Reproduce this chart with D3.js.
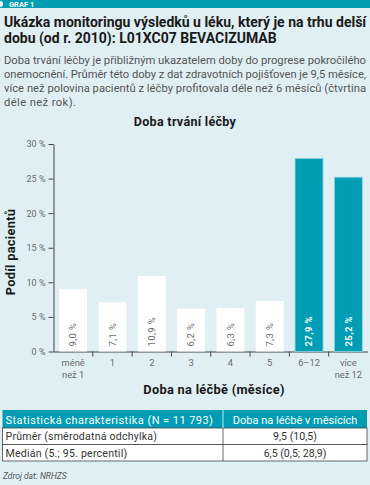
<!DOCTYPE html>
<html>
<head>
<meta charset="utf-8">
<script src="https://cdn.jsdelivr.net/npm/d3@7"></script>
<style>
  body { margin: 0; background: #dfeff4; }
  svg { display: block; font-family: Roboto, "Open Sans", sans-serif; }
</style>
</head>
<body>
<script>
var w = 370;
var h = 485;

// data
var categories = ['méně než 1', '1', '2', '3', '4', '5', '6–12', 'více než 12'];
var values = [9.0, 7.1, 10.9, 6.2, 6.3, 7.3, 27.9, 25.2];
var highlighted = ['6–12', 'více než 12'];
var yTicks = [0, 5, 10, 15, 20, 25, 30];
var titleLines = ['Ukázka monitoringu výsledků u léku, který je na trhu delší', 'dobu (od r. 2010): L01XC07 BEVACIZUMAB'];
var descLines = [
  'Doba trvání léčby je přibližným ukazatelem doby do progrese pokročilého',
  'onemocnění. Průměr této doby z dat zdravotních pojišťoven je 9,5 měsíce,',
  'více než polovina pacientů z léčby profitovala déle než 6 měsíců (čtvrtina',
  'déle než rok).'
];
var tableHeader = ['Statistická charakteristika (N = 11 793)', 'Doba na léčbě v měsících'];
var tableRows = [
  ['Průměr (směrodatná odchylka)', '9,5 (10,5)'],
  ['Medián (5.; 95. percentil)', '6,5 (0,5; 28,9)']
];

var teal = '#009db4';
var grey = '#6a6a6a';

var svg = d3.select('body').append('svg').attr('width', w).attr('height', h);
svg.append('rect').attr('width', w).attr('height', h).attr('fill', '#dfeff4');

// header strip
svg.append('rect').attr('width', w).attr('height', 8).attr('fill', teal);
svg.append('circle').attr('cx', 0).attr('cy', 4).attr('r', 3).attr('fill', '#ffffff');
svg.append('text').text('GRAF 1')
  .attr('x', 9).attr('y', 7)
  .attr('font-size', 7.5).attr('font-weight', 'bold').attr('fill', '#ffffff');

// title + description
svg.selectAll('text.title').data(titleLines).enter().append('text')
  .attr('class', 'title')
  .text(function(d) {return d;})
  .attr('x', 4)
  .attr('y', function(d, i) {return 27 + i * 16;})
  .attr('font-size', 14).attr('font-weight', 'bold').attr('fill', '#1a1a1a');

// the last line is short, the others run the full width like the justified original
svg.selectAll('text.desc').data(descLines).enter().append('text')
  .attr('class', 'desc')
  .text(function(d) {return d;})
  .attr('x', 4)
  .attr('y', function(d, i) {return 63.5 + i * 14;})
  .attr('font-size', 11.2).attr('fill', '#555555')
  .each(function(d, i) {
    if (i < descLines.length - 1) {
      d3.select(this).attr('textLength', 362).attr('lengthAdjust', 'spacing');
    } else {
      d3.select(this).attr('letter-spacing', 0.4);
    }
  });

// chart
var x = d3.scaleBand().domain(categories).range([53.5, 368]).paddingInner(0.29).paddingOuter(0.145);
var y = d3.scaleLinear().domain([0, 30]).range([351.5, 144]);

svg.append('text').text('Doba trvání léčby')
  .attr('x', 185).attr('y', 126)
  .attr('text-anchor', 'middle')
  .attr('font-size', 12.5).attr('font-weight', 'bold').attr('fill', '#1a1a1a')
  .attr('letter-spacing', 0.3);

var yAxis = svg.append('g')
  .attr('transform', 'translate(53.5,0)')
  .call(d3.axisLeft(y).tickValues(yTicks).tickFormat(function(d) {return d + ' %';}).tickSize(5).tickSizeOuter(0));
yAxis.selectAll('text').attr('font-size', 9).attr('fill', grey).attr('font-family', 'Roboto, sans-serif');
yAxis.selectAll('line, path').attr('stroke', '#444444');

var xAxis = svg.append('g')
  .attr('transform', 'translate(0,' + y(0) + ')')
  .call(d3.axisBottom(x).tickSize(0).tickSizeOuter(0).tickFormat(''));
xAxis.select('path').attr('stroke', '#444444').attr('d', 'M53.5,0.5H368');

// boundary ticks between categories
var half = x.step() * x.paddingInner() / 2;
xAxis.selectAll('line.sep').data(categories.slice(1)).enter().append('line')
  .attr('class', 'sep')
  .attr('x1', function(d) {return x(d) - half;})
  .attr('x2', function(d) {return x(d) - half;})
  .attr('y1', 0).attr('y2', 5)
  .attr('stroke', '#444444');

// category labels (two lines where needed)
var labels = svg.append('g').selectAll('text').data(categories).enter().append('text')
  .attr('x', function(d) {return x(d) + x.bandwidth() / 2;})
  .attr('y', y(0) + 14)
  .attr('text-anchor', 'middle')
  .attr('font-size', 9.3).attr('fill', grey);
labels.each(function(d) {
  var parts = d.indexOf('než') > 0 ? [d.slice(0, d.indexOf('než') - 1), d.slice(d.indexOf('než'))] : [d];
  var t = d3.select(this);
  parts.forEach(function(p, i) {
    t.append('tspan').text(p)
      .attr('x', x(d) + x.bandwidth() / 2)
      .attr('dy', i === 0 ? 0 : 12);
  });
});

svg.append('text').text('Doba na léčbě (měsíce)')
  .attr('x', 214).attr('y', 394)
  .attr('text-anchor', 'middle')
  .attr('font-size', 12.8).attr('font-weight', 'bold').attr('fill', '#1a1a1a')
  .attr('letter-spacing', 0.3);

svg.append('text').text('Podíl pacientů')
  .attr('transform', 'translate(15,252) rotate(-90)')
  .attr('text-anchor', 'middle')
  .attr('font-size', 12.8).attr('font-weight', 'bold').attr('fill', '#1a1a1a')
  .attr('letter-spacing', 0.3);

// bars
svg.selectAll('rect.bar')
  .data(values)
  .enter()
  .append('rect')
  .attr('class', 'bar')
  .attr('x', function(d, i) {return x(categories[i]);})
  .attr('y', function(d) {return y(d);})
  .attr('width', x.bandwidth())
  .attr('height', function(d) {return y(0) - y(d);})
  .attr('fill', function(d, i) {return highlighted.indexOf(categories[i]) >= 0 ? teal : '#ffffff';})
  .attr('stroke', function(d, i) {return highlighted.indexOf(categories[i]) >= 0 ? '#8fd0dd' : 'none';})
  .attr('stroke-width', 0.8);

svg.selectAll('text.val')
  .data(values)
  .enter()
  .append('text')
  .attr('class', 'val')
  .text(function(d) {return d3.format('.1f')(d).replace('.', ',') + ' %';})
  .attr('transform', function(d, i) {
    return 'translate(' + (x(categories[i]) + x.bandwidth() / 2) + ',' + (y(0) - 5) + ') rotate(-90)';
  })
  .attr('dy', '0.35em')
  .attr('font-size', 9.5)
  .attr('letter-spacing', 0.4)
  .attr('font-weight', function(d, i) {return highlighted.indexOf(categories[i]) >= 0 ? 'bold' : 'normal';})
  .attr('fill', function(d, i) {return highlighted.indexOf(categories[i]) >= 0 ? '#ffffff' : grey;});

// table
var tx = 2.5, tw = 364.5, split = 223, rowH = 16.5, headH = 18;
var t = svg.append('g');
t.append('rect').attr('x', tx).attr('y', 410).attr('width', tw).attr('height', headH).attr('fill', teal);
t.selectAll('text.head').data(tableHeader).enter().append('text')
  .attr('class', 'head')
  .text(function(d) {return d;})
  .attr('x', function(d, i) {return i === 0 ? tx + 3 : (split + tx + tw) / 2;})
  .attr('y', 423.5)
  .attr('text-anchor', function(d, i) {return i === 0 ? 'start' : 'middle';})
  .attr('font-size', 11).attr('fill', '#ffffff')
  .attr('letter-spacing', function(d, i) {return i === 0 ? 0.45 : 0;});

var rows = t.selectAll('g.row').data(tableRows).enter().append('g')
  .attr('class', 'row')
  .attr('transform', function(d, i) {return 'translate(0,' + (410 + headH + i * rowH) + ')';});
rows.append('rect')
  .attr('x', tx).attr('width', tw).attr('height', rowH)
  .attr('fill', '#ffffff').attr('stroke', '#444444').attr('stroke-width', 0.8);
rows.append('line')
  .attr('x1', split).attr('x2', split).attr('y1', 0).attr('y2', rowH)
  .attr('stroke', '#444444').attr('stroke-width', 0.8);
rows.selectAll('text').data(function(d) {return d;}).enter().append('text')
  .text(function(d) {return d;})
  .attr('x', function(d, i) {return i === 0 ? tx + 3 : (split + tx + tw) / 2;})
  .attr('y', 12)
  .attr('text-anchor', function(d, i) {return i === 0 ? 'start' : 'middle';})
  .attr('font-size', 10.6).attr('fill', '#333333')
  .attr('letter-spacing', function(d, i) {return i === 0 ? 0.2 : 0;});
t.append('line').attr('x1', split).attr('x2', split).attr('y1', 410).attr('y2', 410 + headH)
  .attr('stroke', '#ffffff').attr('stroke-width', 0.8);

svg.append('text').text('Zdroj dat: NRHZS')
  .attr('x', 3).attr('y', 479)
  .attr('font-size', 8.5).attr('font-style', 'italic').attr('fill', '#555555');
</script>
</body>
</html>
